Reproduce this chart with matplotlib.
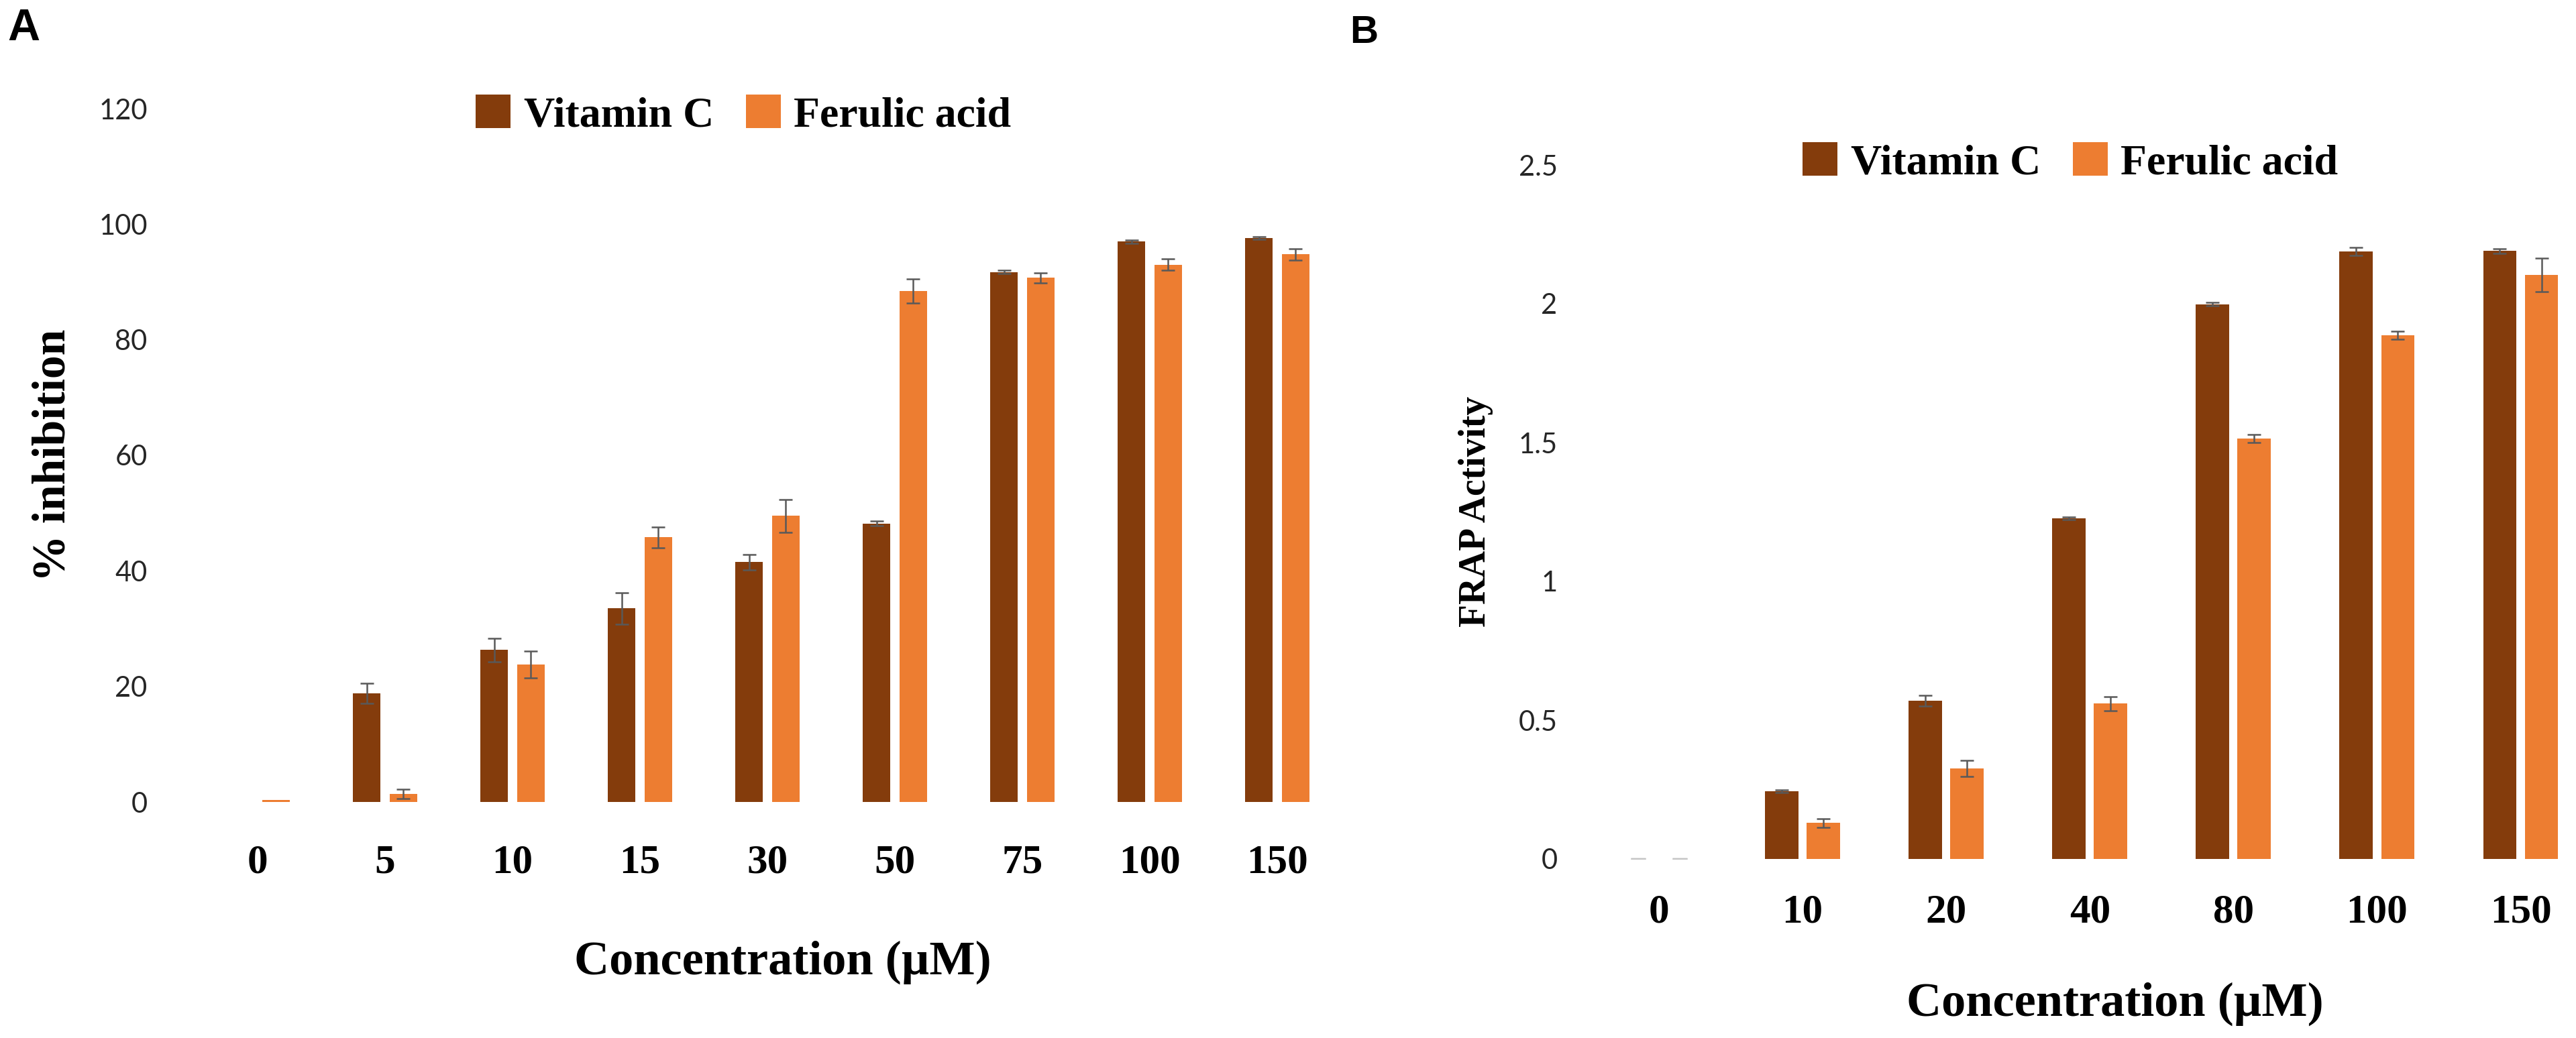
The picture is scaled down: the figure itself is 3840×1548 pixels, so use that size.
import matplotlib
matplotlib.use("Agg")
import matplotlib.pyplot as plt
import numpy as np

# ── Data: panel A, % inhibition ──
conc_a = ["0", "5", "10", "15", "30", "50", "75", "100", "150"]
vitc_a = [0.0, 18.8, 26.3, 33.5, 41.5, 48.2, 91.7, 97.0, 97.6]
vitc_a_err = [0.0, 1.7, 2.0, 2.7, 1.3, 0.4, 0.3, 0.3, 0.2]
fa_a = [0.3, 1.4, 23.8, 45.8, 49.5, 88.4, 90.7, 93.0, 94.8]
fa_a_err = [0.0, 0.8, 2.3, 1.8, 2.8, 2.1, 0.9, 1.0, 1.0]

# ── Data: panel B, FRAP activity ──
conc_b = ["0", "10", "20", "40", "80", "100", "150"]
vitc_b = [0.0, 0.244, 0.570, 1.227, 1.998, 2.188, 2.190]
vitc_b_err = [0.0, 0.004, 0.02, 0.005, 0.006, 0.015, 0.008]
fa_b = [0.0, 0.130, 0.326, 0.560, 1.515, 1.886, 2.104]
fa_b_err = [0.0, 0.016, 0.03, 0.025, 0.015, 0.015, 0.06]

BROWN = "#843c0c"
ORANGE = "#ed7d31"
ERR = "#595959"
SERIF = "Liberation Serif"
NUMS = "Lato"

W, H = 3841, 1548
fig = plt.figure(figsize=(W / 100, H / 100), dpi=100)


def rect(left, top, right, bottom):
    return [left / W, 1 - bottom / H, (right - left) / W, (bottom - top) / H]


def draw_panel(ax, cats, v1, e1, v2, e2, width, offset, zero_caps):
    x = np.arange(len(cats))
    v1, e1, v2, e2 = map(np.asarray, (v1, e1, v2, e2))
    ax.bar(x - offset, v1, width, color=BROWN, label="Vitamin C", zorder=2)
    ax.bar(x + offset, v2, width, color=ORANGE, label="Ferulic acid", zorder=2)
    for xs, vals, errs in ((x - offset, v1, e1), (x + offset, v2, e2)):
        m = errs > 0
        ax.errorbar(xs[m], vals[m], yerr=errs[m], fmt="none", ecolor=ERR,
                    elinewidth=1.8, capsize=7, capthick=1.8, zorder=3)
        if zero_caps:
            z = vals == 0
            ax.errorbar(xs[z], vals[z], yerr=errs[z], fmt="none", ecolor="#c4c4c4",
                        elinewidth=2.5, capsize=8, capthick=2.5, zorder=3)
    ax.set_xticks(x)
    ax.set_xticklabels(cats, fontfamily=SERIF, fontweight="bold", fontsize=44)
    for s in ax.spines.values():
        s.set_visible(False)
    ax.tick_params(axis="both", length=0)
    return x


def add_legend(ax, left_px, cy_px):
    ax.legend(loc="center left", bbox_to_anchor=(left_px / W, 1 - cy_px / H),
              bbox_transform=fig.transFigure, ncol=2, frameon=False,
              prop={"family": SERIF, "weight": "bold", "size": 46},
              handlelength=0.82, handleheight=0.82, handletextpad=0.3,
              columnspacing=0.75, borderpad=0, borderaxespad=0)


# ── Panel A ──
axA = fig.add_axes(rect(289, 162, 1999, 1196))
draw_panel(axA, conc_a, vitc_a, vitc_a_err, fa_a, fa_a_err, 0.217, 0.143, False)
axA.set_xlim(-0.5, 8.5)
axA.set_ylim(0, 120)
ticks_a = np.arange(0, 121, 20)
axA.set_yticks(ticks_a)
axA.set_yticklabels([f"{v:g}" for v in ticks_a], fontfamily=NUMS,
                    fontsize=30, color="#262626")
axA.tick_params(axis="y", pad=50)
axA.tick_params(axis="x", pad=45)
axA.set_xlabel("Concentration (\u00b5M)", fontfamily=SERIF, fontweight="bold", fontsize=52)
axA.xaxis.set_label_coords(1167 / W, 1 - 1403 / H, transform=fig.transFigure)
axA.set_ylabel("% inhibition", fontfamily=SERIF, fontweight="bold", fontsize=50)
axA.yaxis.set_label_coords(112 / W, 1 - 679 / H, transform=fig.transFigure)
add_legend(axA, 709, 172)

# ── Panel B ──
axB = fig.add_axes(rect(2366, 246, 3841, 1281))
draw_panel(axB, conc_b, vitc_b, vitc_b_err, fa_b, fa_b_err, 0.233, 0.145, True)
axB.set_xlim(-0.5, 6.39)
axB.set_ylim(0, 2.5)
ticks_b = np.arange(0, 2.51, 0.5)
axB.set_yticks(ticks_b)
axB.set_yticklabels([f"{v:g}" for v in ticks_b], fontfamily=NUMS,
                    fontsize=30, color="#262626")
axB.tick_params(axis="y", pad=32)
axB.tick_params(axis="x", pad=37)
axB.set_xlabel("Concentration (\u00b5M)", fontfamily=SERIF, fontweight="bold", fontsize=52)
axB.xaxis.set_label_coords(3153 / W, 1 - 1465 / H, transform=fig.transFigure)
axB.set_ylabel("FRAP Activity", fontfamily=SERIF, fontweight="bold", fontsize=40)
axB.yaxis.set_label_coords(2226 / W, 1 - 763 / H, transform=fig.transFigure)
add_legend(axB, 2687, 243)

# panel letters
fig.text(11 / W, 1 - 12 / H, "A", fontfamily="Liberation Sans", fontweight="bold",
         fontsize=48, va="top", ha="left")
fig.text(2012 / W, 1 - 22 / H, "B", fontfamily="Liberation Sans", fontweight="bold",
         fontsize=42, va="top", ha="left")

fig.savefig("out.png", dpi=100, facecolor="white")
